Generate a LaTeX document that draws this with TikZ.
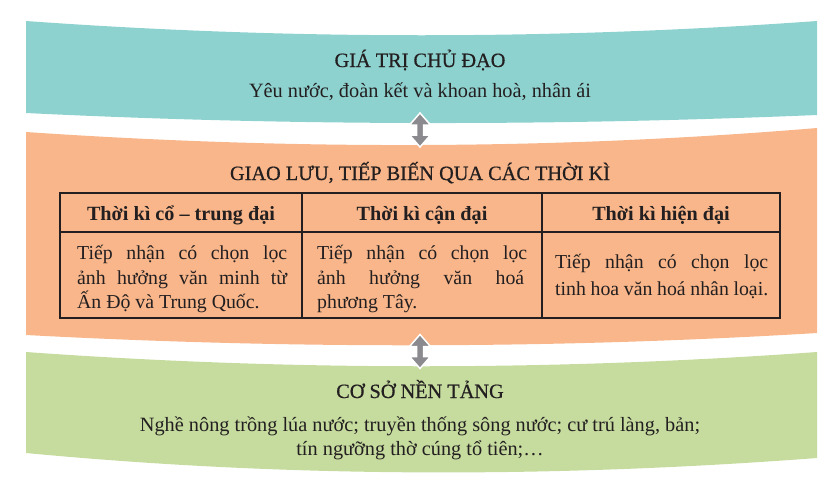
\documentclass[tikz,border=0pt]{standalone}
\usepackage{fontspec}
\setmainfont{Liberation Serif}
\newfontfamily\headfont[FakeBold=0.6]{Liberation Serif}
\usetikzlibrary{calc}

\definecolor{tealband}{HTML}{8ED2CF}
\definecolor{orangeband}{HTML}{F8B68A}
\definecolor{greenband}{HTML}{C6DB9E}
\definecolor{inkgray}{HTML}{231F20}
\definecolor{arrowgray}{HTML}{8B8A8F}

\tikzset{
  heading/.style={anchor=base, inner sep=0pt, text=inkgray, font=\headfont\fontsize{20.3}{26}\selectfont},
  plain/.style={anchor=base, inner sep=0pt, text=inkgray, font=\fontsize{20.3}{26}\selectfont},
  body/.style={anchor=base west, inner sep=0pt, text=inkgray, font=\fontsize{19.8}{26}\selectfont},
  colhead/.style={anchor=base, inner sep=0pt, text=inkgray, font=\fontsize{20.2}{26}\selectfont\bfseries},
  grid/.style={line width=1.3pt, draw=inkgray},
  updown/.style={fill=arrowgray, draw=white, line width=1.5pt, line join=miter},
}
\newcommand{\jline}[1]{\makebox[210pt][s]{#1}}

\begin{document}
\begin{tikzpicture}[x=1pt,y=-1pt]
    \useasboundingbox (0,0) rectangle (840,490);

    % bands
    \fill[tealband] (26,21) .. controls (290,40) and (553,40) .. (817,21)
        -- (817,115) .. controls (553,126) and (290,126) .. (26,113) -- cycle;
    \fill[orangeband] (26,132) .. controls (290,150) and (553,150) .. (817,128)
        -- (817,333) .. controls (553,349) and (290,349) .. (26,335) -- cycle;
    \fill[greenband] (26,352) .. controls (290,371) and (553,371) .. (817,352)
        -- (817,458) .. controls (553,478) and (290,478) .. (26,453) -- cycle;

    % arrows between the bands
    \coordinate (arrA) at (420,130);
    \coordinate (arrB) at (420,351.5);
    \draw[updown] ($(arrA)+(0,-17)$) -- ++(10.5,12) -- ++(-7,0) -- ++(0,10) -- ++(7,0)
        -- ++(-10.5,12) -- ++(-10.5,-12) -- ++(7,0) -- ++(0,-10) -- ++(-7,0) -- cycle;
    \draw[updown] ($(arrB)+(0,-17)$) -- ++(10.5,12) -- ++(-7,0) -- ++(0,10) -- ++(7,0)
        -- ++(-10.5,12) -- ++(-10.5,-12) -- ++(7,0) -- ++(0,-10) -- ++(-7,0) -- cycle;

    % top band
    \node[heading] (valTitle) at (420,67) {GIÁ TRỊ CHỦ ĐẠO};
    \node[plain] (valText) at (420,97) {Yêu nước, đoàn kết và khoan hoà, nhân ái};

    % middle band
    \node[heading] (exTitle) at (420,180) {GIAO LƯU, TIẾP BIẾN QUA CÁC THỜI KÌ};

    \coordinate (tabTL) at (60,193);
    \coordinate (tabBR) at (780,318);
    \draw[grid] (tabTL) rectangle (tabBR);
    \draw[grid] (60,232) -- (780,232);
    \draw[grid] (302,193) -- (302,318);
    \draw[grid] (542,193) -- (542,318);

    \node[colhead] (hdA) at (181,220) {Thời kì cổ – trung đại};
    \node[colhead] (hdB) at (422,220) {Thời kì cận đại};
    \node[colhead] (hdC) at (661,220) {Thời kì hiện đại};

    \node[body] (cA1) at (77,259) {\jline{Tiếp nhận có chọn lọc}};
    \node[body] (cA2) at (77,284) {\jline{ảnh hưởng văn minh từ}};
    \node[body] (cA3) at (77,308) {Ấn Độ và Trung Quốc.};

    \node[body] (cB1) at (317,259) {\jline{Tiếp nhận có chọn lọc}};
    \node[body] (cB2) at (317,284) {\makebox[207pt][s]{ảnh hưởng văn hoá}};
    \node[body] (cB3) at (317,308) {phương Tây.};

    \node[body] (cC1) at (555,268) {\makebox[213pt][s]{Tiếp nhận có chọn lọc}};
    \node[body] (cC2) at (555,295) {\makebox[213pt][s]{tinh hoa văn hoá nhân loại.}};

    % bottom band
    \node[heading] (baseTitle) at (420,398) {CƠ SỞ NỀN TẢNG};
    \node[plain] (baseText1) at (420,431) {Nghề nông trồng lúa nước; truyền thống sông nước; cư trú làng, bản;};
    \node[plain] (baseText2) at (420,455) {tín ngưỡng thờ cúng tổ tiên;\dots};
\end{tikzpicture}
\end{document}
